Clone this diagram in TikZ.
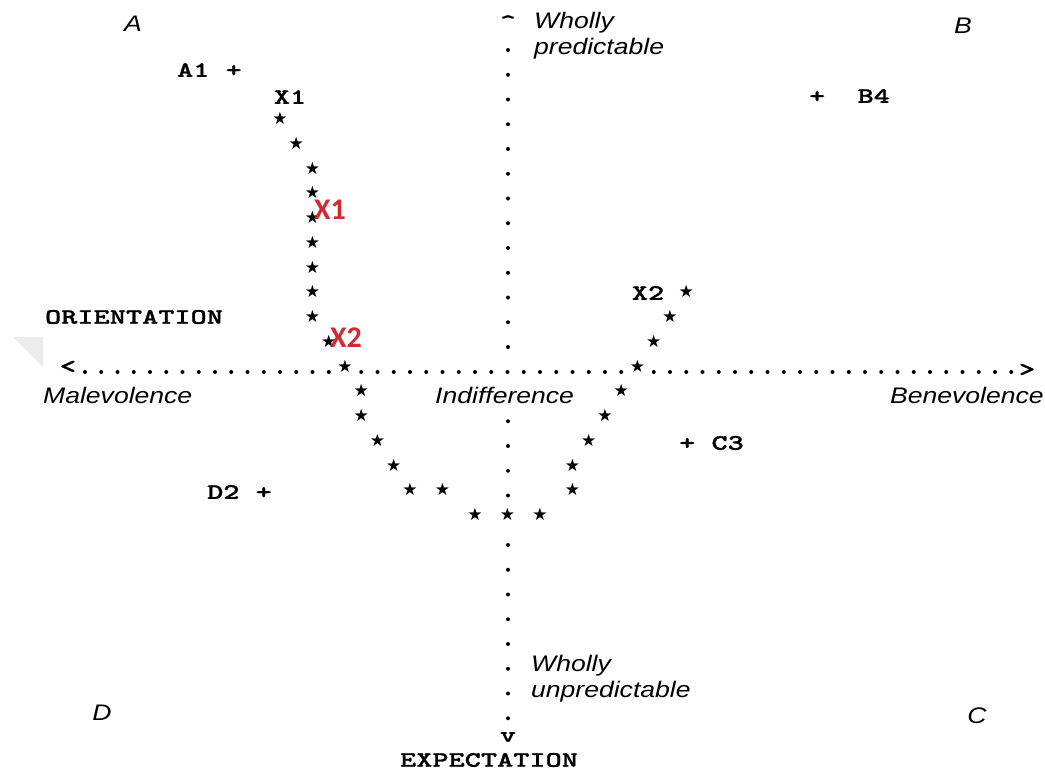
\documentclass[tikz,border=0pt]{standalone}
\usepackage{fontspec}
% typewriter-style glyphs and italic sans labels, widened a little
\newfontface\typew[FakeStretch=1.4,FakeBold=1.2]{lmmonolt10-bold.otf}
\newfontface\labit[FakeStretch=1.18]{Liberation Sans Italic}
\newfontface\redbold{Carlito Bold}
\newfontface\symb{DejaVu Sans}
\definecolor{markred}{RGB}{208,42,52}

\begin{document}
\begin{tikzpicture}[x=1pt,y=-1pt,
  tw/.style={inner sep=0pt, font=\typew\fontsize{22}{22}\selectfont},
  it/.style={inner sep=0pt, font=\labit\fontsize{22.5}{26}\selectfont},
  redlbl/.style={inner sep=0pt, text=markred, font=\redbold\fontsize{30}{30}\selectfont},
  starmk/.style={inner sep=0pt, font=\symb\fontsize{17}{17}\selectfont},
  axdot/.style={fill=black}]
\useasboundingbox (0,0) rectangle (1045,774);

% faint grey corner mark
\fill[black!8] (13,337) -- (43,337) -- (43,367) -- cycle;

% horizontal axis: dotted row with arrow characters at both ends
\node[tw] (larr) at (68,367) {<};
\node[tw] (rarr) at (1027,370) {>};
\foreach \c in {0,...,57}{
  \ifnum\c=16\relax\else\ifnum\c=34\relax\else
    \fill[axdot] ({85+16.25*\c},372) circle (2.0);
  \fi\fi}

% vertical axis
\node[tw, anchor=north] (uarr) at (508,15) {\textasciicircum};
\node[tw] (darr) at (508,737) {v};
\foreach \k in {0,...,27}{
  \ifnum\k=13\relax\else\ifnum\k=14\relax\else\ifnum\k=19\relax\else
    \fill[axdot] (508,{50+24.75*\k}) circle (2.0);
  \fi\fi\fi}

% the path of stars (column / row on the typewriter grid)
\foreach [count=\i] \c/\r in {12/-10,13/-9,14/-8,14/-7,14/-6,14/-5,14/-4,14/-3,14/-2,
    15/-1,16/0,17/1,17/2,18/3,19/4,20/5,22/5,24/6,26/6,28/6,
    30/5,30/4,31/3,32/2,33/1,34/0,35/-1,36/-2,37/-3}
  \node[starmk] (st\i) at ({85+16.25*\c},{366+24.75*\r}) {★};

% points
\node[tw] (a1) at (209.5,70) {A1 +};
\node[tw] (x1) at (290,97) {X1};
\node[tw] (b4) at (849.5,96) {+\ \ B4};
\node[tw] (x2) at (648,293) {X2};
\node[tw] (c3) at (711.5,443) {+ C3};
\node[tw] (d2) at (239.5,492) {D2 +};

% axis titles
\node[tw] (orient) at (134,317) {ORIENTATION};
\node[tw] (expect) at (489,760) {EXPECTATION};

% axis labels
\node[it, anchor=base west] (male) at (43,403) {Malevolence};
\node[it, anchor=base west] (indiff) at (435,403) {Indifference};
\node[it, anchor=base west] (bene) at (890,403) {Benevolence};
\node[it, anchor=north west, align=left] (wpred) at (534,12) {Wholly\\predictable};
\node[it, anchor=north west, align=left] (wunpred) at (531,655) {Wholly\\unpredictable};

% quadrant letters
\node[it, anchor=base] (qa) at (133,31) {A};
\node[it, anchor=base] (qb) at (963,33) {B};
\node[it, anchor=base] (qc) at (977,723) {C};
\node[it, anchor=base] (qd) at (102,720) {D};

% red markers
\node[redlbl] (rx1) at (330,210) {X1};
\node[redlbl] (rx2) at (346,338) {X2};
\end{tikzpicture}
\end{document}
